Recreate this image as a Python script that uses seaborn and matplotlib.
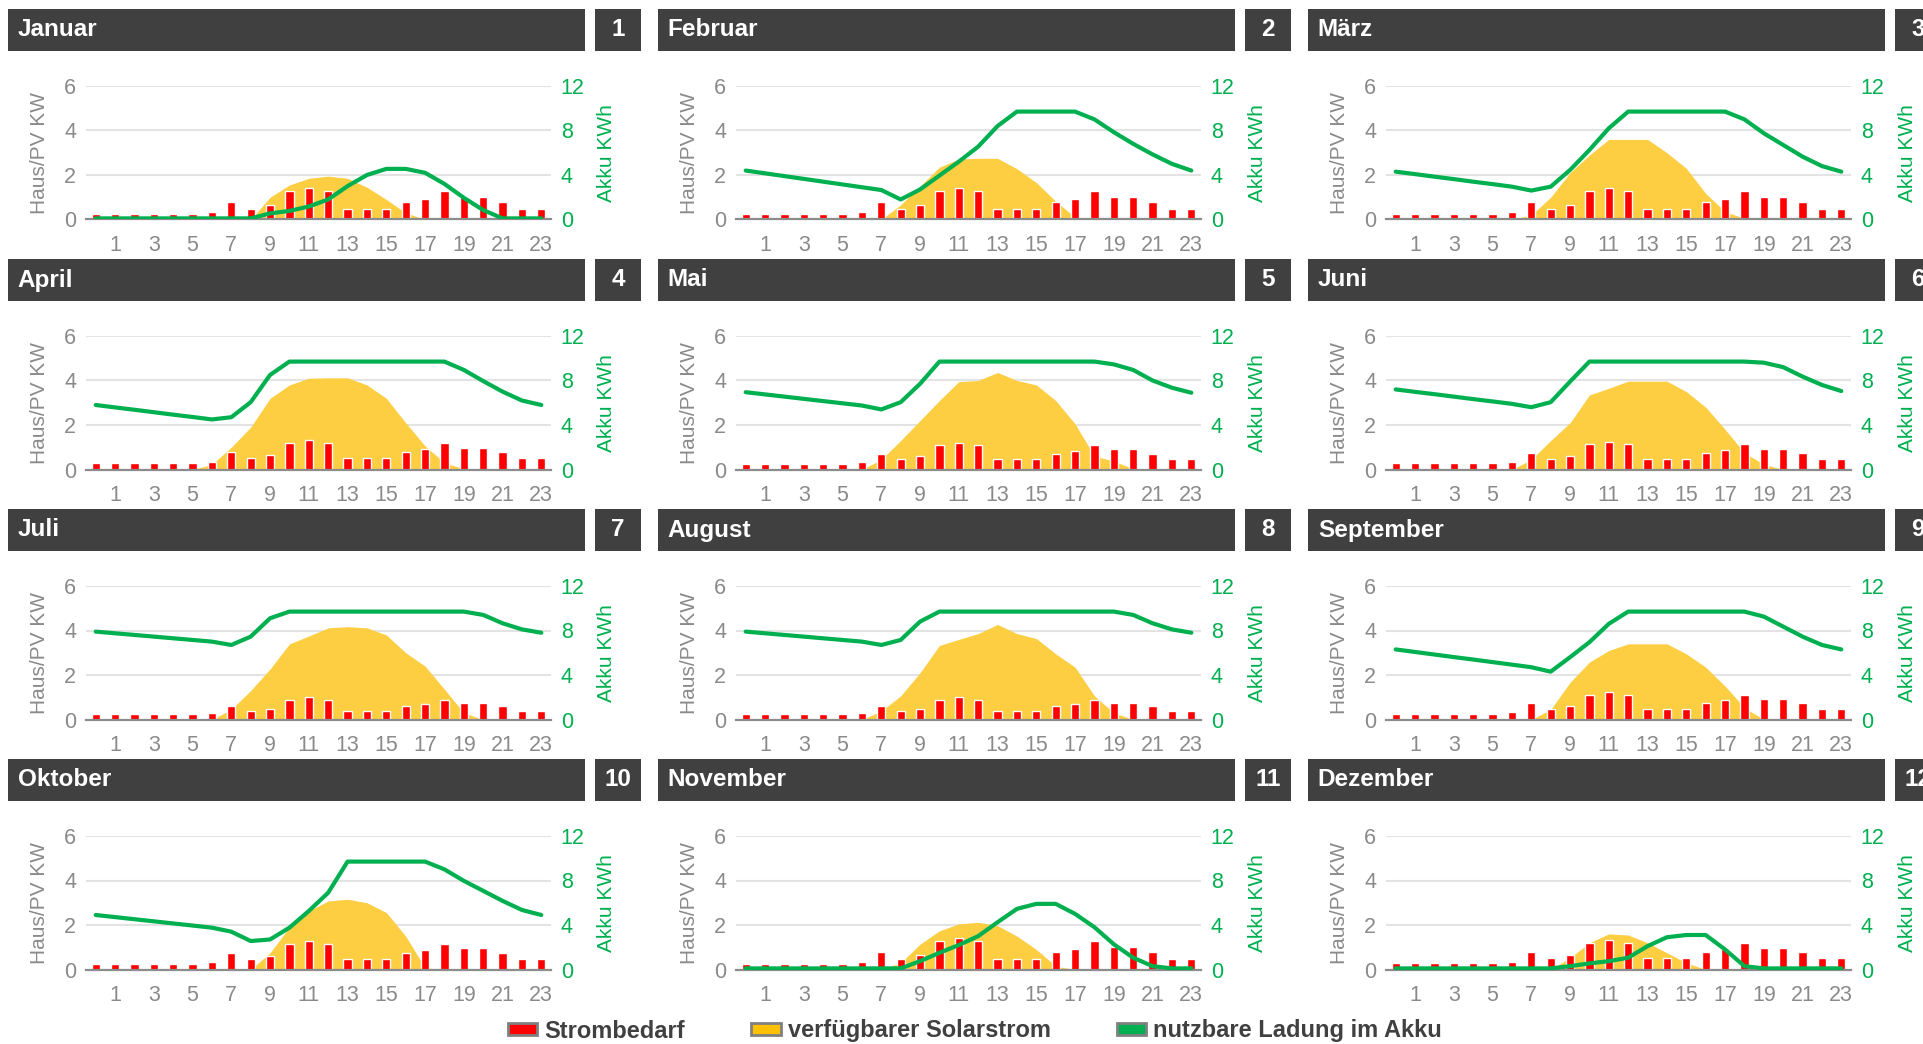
import matplotlib
matplotlib.use("Agg")
import matplotlib.pyplot as plt
import seaborn as sns
from matplotlib.patches import Patch

# --- Daten ---
hours = list(range(24))
hour_labels = ["1", "3", "5", "7", "9", "11", "13", "15", "17", "19", "21", "23"]
monate = ["Januar", "Februar", "März", "April", "Mai", "Juni",
          "Juli", "August", "September", "Oktober", "November", "Dezember"]

bedarf_jan = [0.25, 0.25, 0.25, 0.25, 0.25, 0.25, 0.34, 0.8, 0.48, 0.66, 1.26, 1.4,
              1.26, 0.48, 0.48, 0.48, 0.8, 0.94, 1.26, 1.03, 1.03, 0.8, 0.48, 0.48]
bedarf_feb = bedarf_jan
bedarf_mar = bedarf_jan
bedarf_apr = [0.27, 0.27, 0.27, 0.27, 0.27, 0.27, 0.32, 0.77, 0.5, 0.65, 1.18, 1.32,
              1.18, 0.5, 0.5, 0.5, 0.77, 0.91, 1.18, 0.95, 0.95, 0.77, 0.5, 0.5]
bedarf_mai = [0.23, 0.23, 0.23, 0.23, 0.23, 0.23, 0.32, 0.68, 0.45, 0.59, 1.09, 1.18,
              1.09, 0.45, 0.45, 0.45, 0.68, 0.82, 1.09, 0.91, 0.91, 0.68, 0.45, 0.45]
bedarf_jun = [0.27, 0.27, 0.27, 0.27, 0.27, 0.27, 0.32, 0.73, 0.45, 0.59, 1.14, 1.23,
              1.14, 0.45, 0.45, 0.45, 0.73, 0.86, 1.14, 0.91, 0.91, 0.73, 0.45, 0.45]
bedarf_jul = [0.23, 0.23, 0.23, 0.23, 0.23, 0.23, 0.27, 0.59, 0.36, 0.45, 0.86, 1.0,
              0.86, 0.36, 0.36, 0.36, 0.59, 0.68, 0.86, 0.73, 0.73, 0.59, 0.36, 0.36]
bedarf_aug = bedarf_jul
bedarf_sep = [0.23, 0.23, 0.23, 0.23, 0.23, 0.23, 0.32, 0.73, 0.45, 0.59, 1.09, 1.23,
              1.09, 0.45, 0.45, 0.45, 0.73, 0.86, 1.09, 0.91, 0.91, 0.73, 0.45, 0.45]
bedarf_okt = [0.23, 0.23, 0.23, 0.23, 0.23, 0.23, 0.32, 0.72, 0.45, 0.59, 1.13, 1.26,
              1.13, 0.45, 0.45, 0.45, 0.72, 0.86, 1.13, 0.95, 0.95, 0.72, 0.45, 0.45]
bedarf_nov = bedarf_jan
bedarf_dez = bedarf_apr

pv_jan = [0, 0, 0, 0, 0, 0, 0, 0, 0, 1.0, 1.55, 1.85, 1.95, 1.85, 1.45, 0.9, 0.3, 0, 0, 0, 0, 0, 0, 0]
pv_feb = [0, 0, 0, 0, 0, 0, 0, 0, 0.66, 1.5, 2.35, 2.72, 2.75, 2.75, 2.28, 1.66, 0.82, 0.1, 0, 0, 0, 0, 0, 0]
pv_mar = [0, 0, 0, 0, 0, 0, 0, 0.2, 1.0, 2.1, 2.9, 3.6, 3.6, 3.6, 3.0, 2.3, 1.17, 0.35, 0.05, 0, 0, 0, 0, 0]
pv_apr = [0, 0, 0, 0, 0, 0, 0.23, 1.0, 1.9, 3.2, 3.8, 4.1, 4.12, 4.12, 3.8, 3.2, 2.1, 1.06, 0.3, 0.03, 0, 0, 0, 0]
pv_mai = [0, 0, 0, 0, 0, 0, 0, 0.45, 1.3, 2.2, 3.1, 3.95, 4.0, 4.36, 4.0, 3.8, 3.1, 2.05, 0.6, 0.38, 0.03, 0, 0, 0]
pv_jun = [0, 0, 0, 0, 0, 0, 0, 0.45, 1.3, 2.1, 3.35, 3.65, 3.97, 3.97, 3.97, 3.5, 2.8, 1.8, 0.75, 0.23, 0, 0, 0, 0]
pv_jul = [0, 0, 0, 0, 0, 0, 0, 0.45, 1.3, 2.27, 3.4, 3.75, 4.12, 4.17, 4.12, 3.8, 3.0, 2.4, 1.36, 0.3, 0, 0, 0, 0]
pv_aug = [0, 0, 0, 0, 0, 0, 0, 0.38, 1.06, 2.1, 3.33, 3.6, 3.86, 4.27, 3.86, 3.64, 2.95, 2.35, 1.06, 0.3, 0, 0, 0, 0]
pv_sep = [0, 0, 0, 0, 0, 0, 0, 0, 0.45, 1.67, 2.58, 3.1, 3.4, 3.4, 3.4, 2.95, 2.35, 1.5, 0.53, 0, 0, 0, 0, 0]
pv_okt = [0, 0, 0, 0, 0, 0, 0, 0, 0, 0.75, 1.9, 2.63, 3.08, 3.16, 3.0, 2.56, 1.5, 0.08, 0, 0, 0, 0, 0, 0]
pv_nov = [0, 0, 0, 0, 0, 0, 0, 0, 0.3, 1.14, 1.74, 2.05, 2.12, 1.97, 1.5, 0.9, 0.15, 0, 0, 0, 0, 0, 0, 0]
pv_dez = [0, 0, 0, 0, 0, 0, 0, 0, 0, 0.53, 1.2, 1.6, 1.55, 1.2, 0.75, 0.3, 0, 0, 0, 0, 0, 0, 0, 0]

akku_jan = [0.1, 0.1, 0.1, 0.1, 0.1, 0.1, 0.1, 0.1, 0.1, 0.55, 0.77, 1.17,
            1.8, 3.0, 4.0, 4.55, 4.55, 4.2, 3.2, 1.95, 0.85, 0.1, 0.1, 0.1]
akku_feb = [4.4, 4.15, 3.9, 3.65, 3.4, 3.15, 2.9, 2.65, 1.8, 2.7, 3.95, 5.2,
            6.55, 8.4, 9.7, 9.7, 9.7, 9.7, 9.0, 7.85, 6.8, 5.85, 5.0, 4.4]
akku_mar = [4.3, 4.08, 3.85, 3.63, 3.4, 3.18, 2.95, 2.6, 2.95, 4.45, 6.25, 8.2,
            9.7, 9.7, 9.7, 9.7, 9.7, 9.7, 9.0, 7.75, 6.7, 5.65, 4.8, 4.3]
akku_apr = [5.8, 5.58, 5.37, 5.15, 4.93, 4.72, 4.5, 4.7, 6.05, 8.5, 9.7, 9.7,
            9.7, 9.7, 9.7, 9.7, 9.7, 9.7, 9.7, 8.95, 7.95, 7.0, 6.2, 5.8]
akku_mai = [6.95, 6.75, 6.55, 6.35, 6.15, 5.95, 5.75, 5.4, 6.05, 7.7, 9.7, 9.7,
            9.7, 9.7, 9.7, 9.7, 9.7, 9.7, 9.7, 9.45, 8.95, 8.0, 7.35, 6.9]
akku_jun = [7.2, 6.98, 6.77, 6.55, 6.33, 6.12, 5.9, 5.6, 6.05, 7.9, 9.7, 9.7,
            9.7, 9.7, 9.7, 9.7, 9.7, 9.7, 9.7, 9.6, 9.2, 8.35, 7.6, 7.05]
akku_jul = [7.9, 7.75, 7.6, 7.45, 7.3, 7.15, 7.0, 6.7, 7.45, 9.1, 9.7, 9.7,
            9.7, 9.7, 9.7, 9.7, 9.7, 9.7, 9.7, 9.7, 9.4, 8.65, 8.1, 7.8]
akku_aug = [7.9, 7.75, 7.6, 7.45, 7.3, 7.15, 7.0, 6.7, 7.15, 8.8, 9.7, 9.7,
            9.7, 9.7, 9.7, 9.7, 9.7, 9.7, 9.7, 9.7, 9.4, 8.65, 8.1, 7.8]
akku_sep = [6.3, 6.07, 5.84, 5.61, 5.39, 5.16, 4.93, 4.7, 4.3, 5.6, 6.95, 8.6,
            9.7, 9.7, 9.7, 9.7, 9.7, 9.7, 9.7, 9.25, 8.35, 7.45, 6.7, 6.3]
akku_okt = [4.9, 4.71, 4.52, 4.33, 4.14, 3.95, 3.76, 3.4, 2.56, 2.7, 3.76, 5.26,
            6.9, 9.7, 9.7, 9.7, 9.7, 9.7, 9.0, 7.97, 7.07, 6.17, 5.35, 4.9]
akku_nov = [0.1, 0.1, 0.1, 0.1, 0.1, 0.1, 0.1, 0.1, 0.1, 0.75, 1.5, 2.2,
            3.0, 4.25, 5.45, 5.9, 5.9, 5.0, 3.8, 2.27, 1.06, 0.3, 0.1, 0.1]
akku_dez = [0.1, 0.1, 0.1, 0.1, 0.1, 0.1, 0.1, 0.1, 0.1, 0.3, 0.55, 0.75,
            1.06, 2.1, 2.9, 3.1, 3.1, 1.8, 0.3, 0.1, 0.1, 0.1, 0.1, 0.1]

bedarf = [bedarf_jan, bedarf_feb, bedarf_mar, bedarf_apr, bedarf_mai, bedarf_jun,
          bedarf_jul, bedarf_aug, bedarf_sep, bedarf_okt, bedarf_nov, bedarf_dez]
pv = [pv_jan, pv_feb, pv_mar, pv_apr, pv_mai, pv_jun,
      pv_jul, pv_aug, pv_sep, pv_okt, pv_nov, pv_dez]
akku = [akku_jan, akku_feb, akku_mar, akku_apr, akku_mai, akku_jun,
        akku_jul, akku_aug, akku_sep, akku_okt, akku_nov, akku_dez]

# --- Stil ---
sns.set_theme(style="white")
plt.rcParams["font.family"] = ["Liberation Sans", "DejaVu Sans"]

ROT = "#FF0000"
GELB = "#FDCD42"
GRUEN = "#00B050"
GRAU = "#8a8a8a"
DUNKEL = "#404040"

W, H = 1923, 1044
fig = plt.figure(figsize=(W / 100, H / 100), dpi=100)
fig.patch.set_facecolor("white")


def px(x, y, w, h):
    return [x / W, 1 - (y + h) / H, w / W, h / H]


def kasten(x, y, w, h):
    k = fig.add_axes(px(x, y, w, h))
    k.set_facecolor(DUNKEL)
    k.set_xticks([])
    k.set_yticks([])
    for s in k.spines.values():
        s.set_visible(False)
    return k


for i, name in enumerate(monate):
    x0 = 650 * (i % 3)
    y0 = 250 * (i // 3)

    kopf = kasten(x0 + 8, y0 + 9, 577, 42)
    kopf.text(0.017, 0.5, name, color="white", fontsize=17.5, fontweight="bold",
              ha="left", va="center", transform=kopf.transAxes)
    nr = kasten(x0 + 595, y0 + 9, 46, 42)
    nr.text(0.5, 0.5, str(i + 1), color="white", fontsize=17.5, fontweight="bold",
            ha="center", va="center", transform=nr.transAxes)

    ax = fig.add_axes(px(x0 + 86, y0 + 86, 465, 133.5))
    ax.fill_between(hours, pv[i], color=GELB, lw=0, zorder=1)
    sns.barplot(x=hours, y=bedarf[i], ax=ax, color=ROT, saturation=1,
                width=0.42, zorder=2)
    ax.set_xlim(-0.5, 23.5)
    ax.set_ylim(0, 6)
    ax.set_yticks([0, 2, 4, 6])
    ax.set_xticks(hours[1::2])
    ax.set_xticklabels(hour_labels)
    ax.set_axisbelow(True)
    ax.grid(axis="y", color="#e3e3e3", lw=1.5)
    ax.grid(axis="x", visible=False)
    for s in ["top", "left", "right"]:
        ax.spines[s].set_visible(False)
    ax.spines["bottom"].set_color("#8c8c8c")
    ax.spines["bottom"].set_linewidth(1.6)
    ax.tick_params(axis="both", length=0, labelsize=15.5, labelcolor=GRAU)
    ax.tick_params(axis="y", pad=7)
    ax.tick_params(axis="x", pad=11)
    ax.set_ylabel("Haus/PV KW", fontsize=15, color=GRAU)
    ax.yaxis.set_label_coords(-0.08, 0.5)
    ax.set_xlabel("")

    ax2 = ax.twinx()
    sns.lineplot(x=hours, y=akku[i], ax=ax2, color=GRUEN, lw=3, zorder=3)
    ax2.set_ylim(0, 12)
    ax2.set_yticks([0, 4, 8, 12])
    for s in ax2.spines.values():
        s.set_visible(False)
    ax2.tick_params(axis="y", length=0, labelsize=15.5, labelcolor=GRUEN, pad=7)
    ax2.set_ylabel("Akku KWh", fontsize=15, color=GRUEN)
    ax2.yaxis.set_label_coords(1.1, 0.5)
    ax2.set_xlim(-0.5, 23.5)

handles = [Patch(facecolor=ROT, edgecolor="#808080", lw=2),
           Patch(facecolor="#FFC000", edgecolor="#808080", lw=2),
           Patch(facecolor=GRUEN, edgecolor="#808080", lw=2)]
leg = fig.legend(handles, ["Strombedarf", "verfügbarer Solarstrom", "nutzbare Ladung im Akku"],
                 loc="center", bbox_to_anchor=(0.507, 1 - 1031 / H), ncol=3, frameon=False,
                 prop={"size": 17, "weight": "bold"}, handlelength=1.25, handleheight=0.45,
                 handletextpad=0.3, columnspacing=2.8, borderaxespad=0, borderpad=0)
for t in leg.get_texts():
    t.set_color(DUNKEL)

fig.savefig("out.png", dpi=100, facecolor="white")
